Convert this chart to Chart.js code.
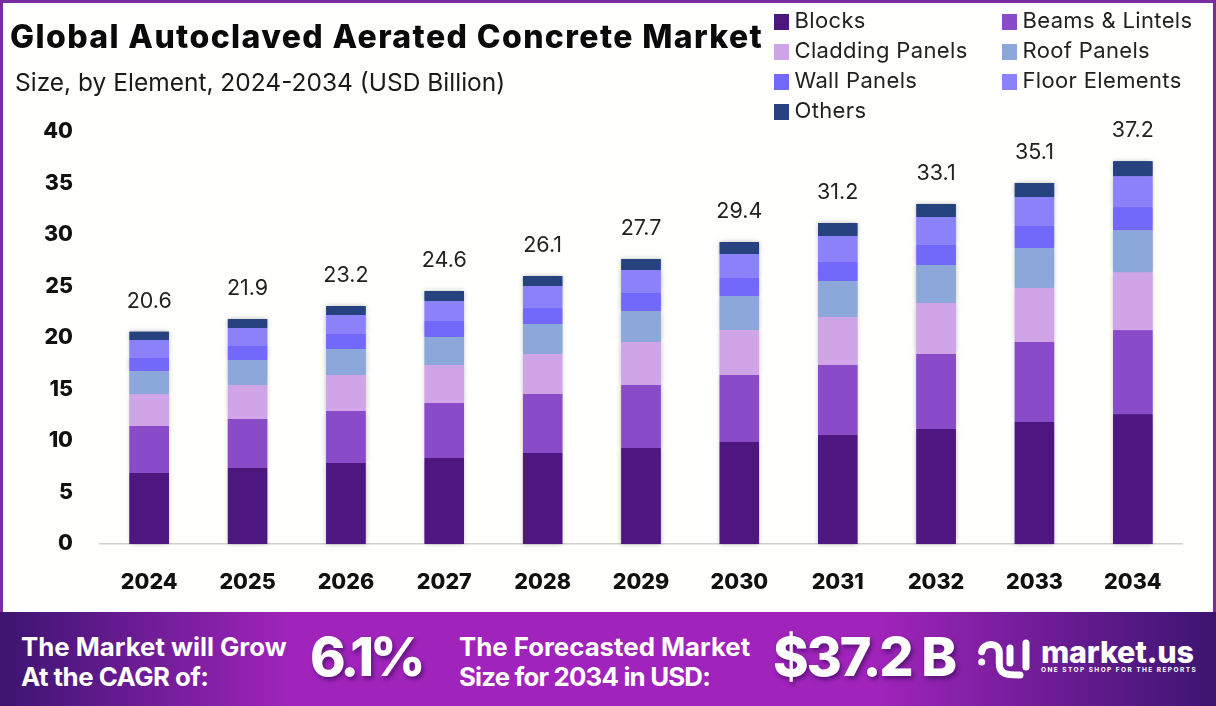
<!DOCTYPE html>
<html>
<head>
<meta charset="utf-8">
<title>Global Autoclaved Aerated Concrete Market</title>
<script src="https://cdn.jsdelivr.net/npm/chart.js@4/dist/chart.umd.min.js"></script>
<style>
  html, body { margin: 0; padding: 0; background: #fff; }
  body { width: 1216px; height: 706px; position: relative; overflow: hidden; font-family: Inter, sans-serif; color: #111; }
  #frame { position: absolute; left: 0; top: 0; width: 1216px; height: 613px; box-sizing: border-box; border: solid #7a2c9e; border-width: 3px 3px 0 3px; background: #fffffe; }
  #chart { position: absolute; left: 0; top: 0; }
  .t { position: absolute; white-space: nowrap; line-height: 1; }
  #title { left: 10px; top: 21px; font-size: 32px; font-weight: 800; letter-spacing: 1.4px; color: #0a0a0a; }
  #subtitle { left: 15px; top: 70px; font-size: 24.5px; font-weight: 400; color: #1a1a1a; }
  .swatch { position: absolute; width: 15px; height: 16px; }
  .leg { font-size: 22px; letter-spacing: 0.35px; color: #222; }
  #band { position: absolute; left: 0; top: 612px; width: 1216px; height: 94px;
    background: linear-gradient(90deg, #3c1570 0%, #a024bb 24%, #a024bb 72%, #3c1570 100%); }
  .foot { color: #fff; font-size: 25.8px; font-weight: 700; }
  .big { color: #fff; font-weight: 800; font-size: 54px; text-shadow: 2px 3px 4px rgba(50,10,80,.6); }
</style>
</head>
<body>
<div id="frame"></div>
<canvas id="chart" width="1216" height="706"></canvas>
<div class="t" id="title">Global Autoclaved Aerated Concrete Market</div>
<div class="t" id="subtitle">Size, by Element, 2024-2034 (USD Billion)</div>
<div id="legend"></div>

<div id="band"></div>
<div class="t foot" style="left:21px;top:634px">The Market will Grow</div>
<div class="t foot" style="left:21px;top:664px;letter-spacing:-0.5px">At the CAGR of:</div>
<div class="t big" style="left:310px;top:630px;letter-spacing:-4px">6.1%</div>
<div class="t foot" style="left:459px;top:634px">The Forecasted Market</div>
<div class="t foot" style="left:459px;top:664px;letter-spacing:-0.8px">Size for 2034 in USD:</div>
<div class="t big" style="left:773px;top:630px;letter-spacing:-2.2px">$37.2 B</div>
<svg style="position:absolute;left:975px;top:636px" width="60" height="48" viewBox="0 0 60 48" fill="none" stroke="#fff" stroke-width="7" stroke-linecap="round">
  <circle cx="6.7" cy="26" r="3.5" fill="#fff" stroke="none"/>
  <path d="M6.7 15.7 C8 7 24 5 24.3 17 L24.3 27 C24.3 38 30 39 45 39"/>
  <path d="M35 12 L35 27"/>
  <path d="M51 7 L51 31"/>
</svg>
<div class="t" style="left:1041px;top:637px;color:#fff;font-size:30.5px;font-weight:800;letter-spacing:-0.2px">market.us</div>
<div class="t" style="left:1041px;top:667px;color:#fff;font-size:6.5px;font-weight:700;letter-spacing:1.45px">ONE STOP SHOP FOR THE REPORTS</div>

<script>
const years = ["2024", "2025", "2026", "2027", "2028", "2029", "2030", "2031", "2032", "2033", "2034"];
const totals = [20.6, 21.9, 23.2, 24.6, 26.1, 27.7, 29.4, 31.2, 33.1, 35.1, 37.2];
const yTicks = [0, 5, 10, 15, 20, 25, 30, 35, 40];

const blocks = [6.9, 7.38, 7.86, 8.35, 8.83, 9.32, 9.9, 10.58, 11.17, 11.84, 12.6];
const beams = [4.55, 4.76, 5.05, 5.34, 5.73, 6.12, 6.5, 6.8, 7.28, 7.77, 8.16];
const cladding = [3.1, 3.3, 3.5, 3.69, 3.88, 4.17, 4.37, 4.66, 4.95, 5.24, 5.63];
const roof = [2.25, 2.43, 2.52, 2.72, 2.91, 3.0, 3.3, 3.5, 3.69, 3.88, 4.08];
const wall = [1.25, 1.36, 1.46, 1.55, 1.55, 1.75, 1.75, 1.84, 1.94, 2.14, 2.23];
const floorEl = [1.75, 1.75, 1.84, 1.94, 2.14, 2.23, 2.33, 2.52, 2.72, 2.82, 3.0];
const others = [0.8, 0.87, 0.87, 0.97, 0.97, 1.07, 1.17, 1.26, 1.26, 1.36, 1.46];

const names = ["Blocks", "Beams & Lintels", "Cladding Panels", "Roof Panels", "Wall Panels", "Floor Elements", "Others"];
const colors = ["#4e1780", "#8a4bc8", "#d0a5e8", "#8ca8da", "#7268fa", "#8b82fa", "#27437f"];
const series = [blocks, beams, cladding, roof, wall, floorEl, others];

// legend sits in two columns over the top right corner
const legendEl = document.getElementById("legend");
names.forEach((name, i) => {
  const x = i % 2 === 0 ? 774 : 1002;
  const y = 21 + 30 * Math.floor(i / 2);
  legendEl.innerHTML +=
    `<div class="swatch" style="left:${x}px;top:${y - 7}px;background:${colors[i]}"></div>` +
    `<div class="t leg" style="left:${x + 20.5}px;top:${y - 12}px">${name.replace("&", "&amp;")}</div>`;
});

// soft glow round the bars and the total above each stack
const barExtras = {
  id: "barExtras",
  beforeDatasetsDraw(chart) {
    // shadow pass first, the normal pass then paints over the inner edges
    const ctx = chart.ctx;
    ctx.save();
    ctx.shadowColor = "rgba(0,0,0,0.28)";
    ctx.shadowBlur = 5;
    series.forEach((s, i) => chart.getDatasetMeta(i).data.forEach(bar => bar.draw(ctx)));
    ctx.restore();
  },
  afterDatasetsDraw(chart) {
    const ctx = chart.ctx;
    const top = chart.getDatasetMeta(series.length - 1).data;
    ctx.save();
    ctx.font = "400 21.5px Inter, sans-serif";
    ctx.fillStyle = "#222";
    ctx.textAlign = "center";
    ctx.textBaseline = "middle";
    totals.forEach((v, i) => {
      ctx.fillText(v.toFixed(1), top[i].x, chart.scales.y.getPixelForValue(v) - 30);
    });
    ctx.restore();
  }
};

new Chart(document.getElementById("chart").getContext("2d"), {
  type: "bar",
  data: {
    labels: years,
    datasets: series.map((values, i) => ({
      label: names[i],
      data: values,
      backgroundColor: colors[i],
      borderWidth: 0,
      categoryPercentage: 1,
      barPercentage: 0.4
    }))
  },
  options: {
    responsive: false,
    animation: false,
    layout: { padding: { top: 132, right: 34, left: 0, bottom: 0 } },
    plugins: { legend: { display: false }, tooltip: { enabled: false }, title: { display: false } },
    scales: {
      x: {
        stacked: true,
        grid: { display: false },
        border: { color: "#cfcfcf", width: 1.5 },
        ticks: { color: "#111", padding: 18, font: { family: "Inter", size: 21.5, weight: "800" }, maxRotation: 0 },
        afterFit(scale) { scale.height = 162; }
      },
      y: {
        stacked: true,
        min: 0,
        max: 40,
        grid: { display: false, drawTicks: false },
        border: { display: false },
        ticks: { color: "#111", padding: 27, font: { family: "Inter", size: 21.5, weight: "800" } },
        afterBuildTicks(scale) { scale.ticks = yTicks.map(v => ({ value: v })); },
        afterFit(scale) { scale.width = 100; }
      }
    }
  },
  plugins: [barExtras]
});
</script>
</body>
</html>
